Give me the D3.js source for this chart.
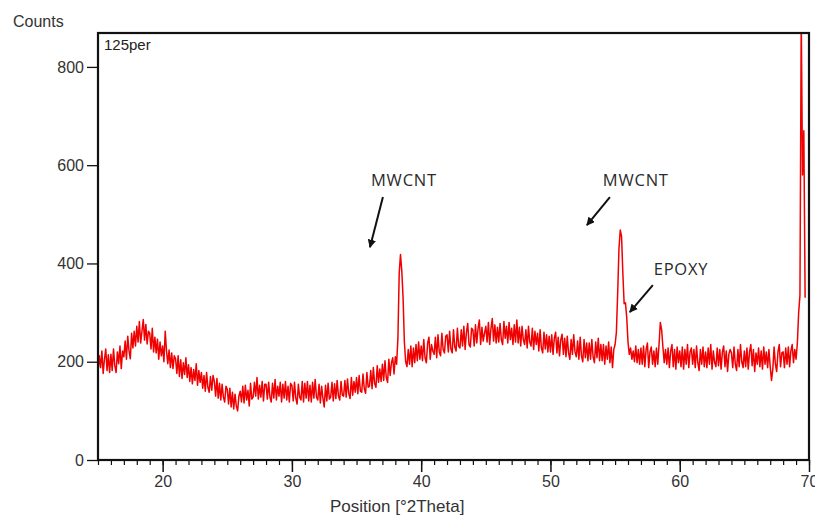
<!DOCTYPE html>
<html>
<head>
<meta charset="utf-8">
<script src="https://d3js.org/d3.v7.min.js"></script>
<style>
    body {
        margin: 0px;
        padding: 0px;
        background: #fff;
    }
    text {
        font-family: 'Liberation Sans', Arial, sans-serif;
    }
</style>
<title>XRD 125per</title>
</head>
<body>
<div id="chart"></div>
<script>
    // scan starts at 15 deg, one reading every 0.1 deg
    var startDeg = 15;
    var stepDeg = 0.1;
    var counts = [
        180,212,188,222,176,205,226,182,214,178, // 15
        215,182,226,192,178,220,196,232,186,222, // 16
        210,242,205,252,222,206,258,228,262,232, // 17
        272,240,282,238,262,286,244,276,236,262, // 18
        258,226,268,220,250,218,246,205,240,212, // 19
        232,200,262,222,196,224,188,218,186,212, // 20
        206,176,212,170,204,166,198,174,208,168, // 21
        194,160,188,155,184,162,196,152,182,158, // 22
        178,146,172,140,178,148,138,170,142,172, // 23
        160,130,166,126,156,122,154,128,118,150, // 24
        144,114,146,108,138,104,134,110,100,130, // 25
        140,118,150,116,152,122,142,110,156,124, // 26
        128,158,130,168,124,152,128,160,120,154, // 27
        154,124,158,128,118,156,126,164,122,150, // 28
        130,158,118,154,126,160,122,150,118,156, // 29
        152,120,158,126,114,154,128,122,160,118, // 30
        156,126,160,120,152,118,158,126,164,128, // 31
        122,154,116,150,126,108,152,120,156,124, // 32
        128,158,120,155,125,162,130,122,160,132, // 33
        130,162,128,165,135,125,168,132,160,138, // 34
        168,135,172,140,138,175,145,136,178,148, // 35
        150,182,145,188,155,148,192,158,185,160, // 36
        195,162,202,168,158,205,172,198,208,175, // 37
        210,195,248,380,418,385,330,240,200,190, // 38
        225,195,232,190,228,198,235,202,240,205, // 39
        232,202,245,208,198,238,250,205,235,222, // 40
        215,250,208,255,220,212,258,225,218,252, // 41
        255,220,262,226,218,265,230,222,268,232, // 42
        228,265,232,272,225,260,278,235,230,268, // 43
        265,232,275,238,268,285,235,270,242,258, // 44
        272,240,280,235,268,288,242,275,238,270, // 45
        240,278,245,235,282,248,272,238,280,245, // 46
        268,235,275,240,285,238,270,232,272,245, // 47
        235,265,228,272,240,232,268,225,262,235, // 48
        258,222,265,228,218,260,226,255,220,252, // 49
        220,255,215,248,260,218,250,212,245,256, // 50
        215,248,210,252,218,205,245,215,255,220, // 51
        210,242,205,250,212,200,245,208,238,202, // 52
        238,205,245,210,198,240,208,248,202,235, // 53
        202,235,195,232,205,240,198,230,188,225, // 54
        235,260,340,430,468,455,380,318,320,290, // 55
        240,215,228,205,222,200,232,198,225,195, // 56
        228,195,232,190,225,238,188,220,230,195, // 57
        222,190,228,195,235,280,265,230,198,225, // 58
        195,228,188,222,235,190,225,185,230,198, // 59
        222,190,230,185,225,195,235,188,220,228, // 60
        195,225,188,232,198,182,225,195,230,190, // 61
        220,188,228,195,235,185,222,198,190,228, // 62
        192,225,185,220,232,190,222,180,215,225, // 63
        218,188,230,195,182,225,190,235,200,188, // 64
        222,190,228,185,220,235,192,225,180,218, // 65
        195,228,190,222,185,230,195,220,188,225, // 66
        190,162,185,230,195,180,220,235,190,218, // 67
        220,188,228,195,230,190,222,235,198,225, // 68
        205,238,300,335,900,580,670,330          // 69
    ];

    var xTicksMajor = [20, 30, 40, 50, 60, 70];
    var yTicks = [0, 200, 400, 600, 800];

    // annotations, in data units (deg, counts)
    var noteLabels = ["MWCNT", "MWCNT", "EPOXY"];
    var noteTextPos = [[38.67, 558], [56.6, 558], [60.1, 377]];
    var noteArrowFrom = [[37.04, 535], [54.6, 535], [57.92, 356]];
    var noteArrowTo = [[36.04, 433], [52.82, 478], [56.14, 301]];

    var width = 815, height = 517;

    var svg = d3.select("#chart").append("svg")
        .attr("width", width)
        .attr("height", height);

    var x = d3.scaleLinear().domain([15, 70]).range([98, 809]);
    var y = d3.scaleLinear().domain([0, 869]).range([460, 33]);

    svg.append("defs").append("clipPath").attr("id", "plotclip")
        .append("rect")
        .attr("x", x(15)).attr("y", y(869))
        .attr("width", x(70) - x(15)).attr("height", y(0) - y(869));

    svg.append("defs").append("marker")
        .attr("id", "head")
        .attr("viewBox", "0 0 10 10")
        .attr("refX", 9).attr("refY", 5)
        .attr("markerWidth", 4.2).attr("markerHeight", 4.2)
        .attr("orient", "auto")
        .append("path")
        .attr("d", "M0,0 L10,5 L0,10 z")
        .attr("fill", "#111");

    // the trace
    var line = d3.line()
        .x(function (d, i) { return x(startDeg + i * stepDeg); })
        .y(function (d) { return y(d); });

    svg.append("path")
        .datum(counts)
        .attr("clip-path", "url(#plotclip)")
        .attr("fill", "none")
        .attr("stroke", "#f00000")
        .attr("stroke-width", 1.5)
        .attr("stroke-linejoin", "round")
        .attr("d", line);

    // minor x ticks every degree
    var minorAxis = svg.append("g")
        .attr("transform", "translate(0," + y(0) + ")")
        .call(d3.axisBottom(x).tickValues(d3.range(15, 71)).tickSize(5).tickFormat(""));
    minorAxis.select(".domain").remove();
    minorAxis.selectAll("line").attr("stroke", "#111").attr("stroke-width", 1.2);

    var xAxis = svg.append("g")
        .attr("transform", "translate(0," + y(0) + ")")
        .call(d3.axisBottom(x).tickValues(xTicksMajor).tickSize(12).tickPadding(4));
    xAxis.select(".domain").remove();
    xAxis.selectAll("line").attr("stroke", "#111").attr("stroke-width", 1.5);
    xAxis.selectAll("text")
        .style("font-size", "16px")
        .attr("fill", "#333");

    var yAxis = svg.append("g")
        .attr("transform", "translate(" + x(15) + ",0)")
        .call(d3.axisLeft(y).tickValues(yTicks).tickSize(11).tickPadding(3));
    yAxis.select(".domain").remove();
    yAxis.selectAll("line").attr("stroke", "#111").attr("stroke-width", 1.3);
    yAxis.selectAll("text")
        .style("font-size", "16px")
        .attr("fill", "#333");

    // frame
    svg.append("rect")
        .attr("x", x(15)).attr("y", y(869))
        .attr("width", x(70) - x(15)).attr("height", y(0) - y(869))
        .attr("fill", "none")
        .attr("stroke", "#111")
        .attr("stroke-width", 2.2);

    svg.append("text")
        .attr("x", 13).attr("y", 27)
        .style("font-size", "16px")
        .attr("fill", "#333")
        .text("Counts");

    svg.append("text")
        .attr("x", x(15) + 6).attr("y", 50)
        .style("font-size", "15px")
        .attr("fill", "#222")
        .text("125per");

    svg.append("text")
        .attr("x", 330).attr("y", 512)
        .style("font-size", "17px")
        .attr("fill", "#333")
        .text("Position [°2Theta]");

    // annotations
    for (var i = 0; i < noteLabels.length; i++) {
        svg.append("text")
            .attr("x", x(noteTextPos[i][0]))
            .attr("y", y(noteTextPos[i][1]))
            .attr("text-anchor", "middle")
            .style("font-family", "'Open Sans', sans-serif")
            .style("font-size", "16.5px")
            .style("letter-spacing", "0.8px")
            .attr("fill", "#2a2a2a")
            .text(noteLabels[i]);

        svg.append("line")
            .attr("x1", x(noteArrowFrom[i][0])).attr("y1", y(noteArrowFrom[i][1]))
            .attr("x2", x(noteArrowTo[i][0])).attr("y2", y(noteArrowTo[i][1]))
            .attr("stroke", "#111")
            .attr("stroke-width", 2)
            .attr("marker-end", "url(#head)");
    }
</script>
</body>
</html>
